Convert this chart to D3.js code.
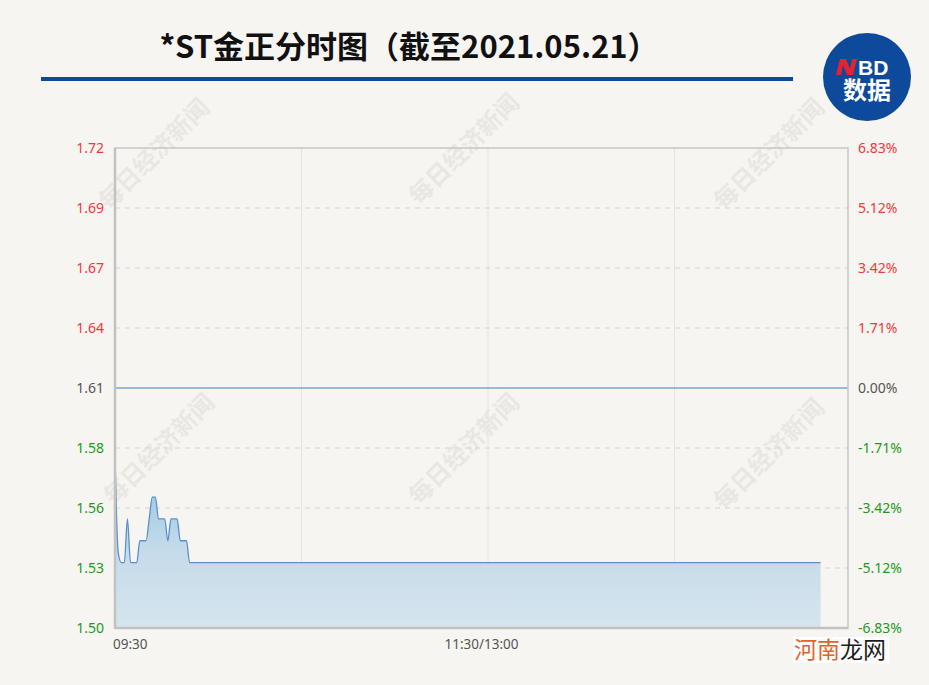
<!DOCTYPE html>
<meta charset="utf-8">
<style>
body { margin: 0; background: #f7f5f1; }
svg { display: block; font-family: "Noto Sans", "Noto Sans CJK SC", sans-serif; }
.tick-l, .tick-r { font-size: 14px; }
.xlab { font-size: 13.5px; fill: #555; }
</style>
<body>
<script src="https://cdn.jsdelivr.net/npm/d3@7"></script>
<script>
// minute offsets from 09:30 and the price at each
var minutes = [0, 1, 2, 3, 4, 5, 6, 7, 8, 9, 10, 11, 12, 13, 14, 15, 16, 17, 18, 19, 20, 21, 22, 23, 24, 227];
var prices  = [1.58, 1.535, 1.53, 1.53, 1.55, 1.53, 1.53, 1.53, 1.54, 1.54, 1.54, 1.55, 1.56, 1.56, 1.55, 1.55, 1.55, 1.54, 1.55, 1.55, 1.55, 1.54, 1.54, 1.54, 1.53, 1.53];
var prevClose = 1.61;

var yTicks  = [1.50, 1.5275, 1.555, 1.5825, 1.61, 1.6375, 1.665, 1.6925, 1.72];
var yLabels = ["1.50", "1.53", "1.56", "1.58", "1.61", "1.64", "1.67", "1.69", "1.72"];
var pLabels = ["-6.83%", "-5.12%", "-3.42%", "-1.71%", "0.00%", "1.71%", "3.42%", "5.12%", "6.83%"];
var xGrid   = [60, 120, 180];
var xLabels = ["09:30", "11:30/13:00", "15:00"];
var xLabelPos = [0, 120, 240];

var W = 929, H = 685;
var pLeft = 115, pRight = 848, pTop = 148, pBottom = 628;

var svg = d3.select("body").append("svg").attr("width", W).attr("height", H);

svg.append("rect").attr("width", W).attr("height", H).attr("fill", "#f7f5f1");

var x = d3.scaleLinear().domain([0, 240]).range([pLeft, 861]);
var xl = d3.scaleLinear().domain([0, 240]).range([pLeft, pRight]);
var y = d3.scaleLinear().domain([1.50, 1.72]).range([pBottom, pTop]);

var defs = svg.append("defs");
var grad = defs.append("linearGradient").attr("id", "fillg")
    .attr("gradientUnits", "userSpaceOnUse")
    .attr("x1", 0).attr("x2", 0).attr("y1", y(1.56)).attr("y2", pBottom);
grad.append("stop").attr("offset", 0).attr("stop-color", "#a6cbe4");
grad.append("stop").attr("offset", 0.4).attr("stop-color", "#c4dbea");
grad.append("stop").attr("offset", 1).attr("stop-color", "#d6e5ed");

// watermarks
var wm = [[160, 160], [470, 155], [775, 160], [165, 455], [470, 455], [775, 460]];
svg.selectAll(".wm").data(wm).enter().append("text")
    .attr("transform", function(d) { return "translate(" + d[0] + "," + d[1] + ") rotate(-45)"; })
    .attr("text-anchor", "middle")
    .attr("font-family", "Noto Sans CJK SC")
    .attr("font-weight", "bold")
    .attr("font-size", 24)
    .attr("fill", "#e2dfda")
    .attr("opacity", 0.6)
    .text("每日经济新闻");

// title
svg.append("text")
    .attr("x", 409).attr("y", 58)
    .attr("text-anchor", "middle")
    .attr("font-family", "Noto Sans CJK SC")
    .attr("font-weight", "bold")
    .attr("font-size", 31)
    .attr("fill", "#111")
    .text("*ST金正分时图（截至2021.05.21）");

svg.append("rect").attr("x", 41).attr("y", 77).attr("width", 752).attr("height", 4).attr("fill", "#0c4a9c");

// logo
var logo = svg.append("g").attr("transform", "translate(867,77)");
logo.append("circle").attr("r", 44).attr("fill", "#0d4a9c");
logo.append("path").attr("d", "M-27,-18 L-21,-18 L-17,-8 L-15,-18 L-10,-18 L-14,-2 L-20,-2 L-24,-12 L-26,-2 L-31,-2 Z").attr("fill", "#e8212e");
logo.append("text").attr("x", -9).attr("y", -2).attr("font-family", "Liberation Sans").attr("font-weight", "bold")
    .attr("font-size", 21).attr("fill", "#fff").text("BD");
logo.append("text").attr("x", 0).attr("y", 22).attr("text-anchor", "middle").attr("font-family", "Noto Sans CJK SC")
    .attr("font-weight", "bold").attr("font-size", 24).attr("fill", "#fff").text("数据");

// vertical grid
svg.selectAll(".vg").data(xGrid).enter().append("line")
    .attr("x1", function(d) { return x(d); }).attr("x2", function(d) { return x(d); })
    .attr("y1", pTop).attr("y2", pBottom)
    .attr("stroke", "#e4e4e4").attr("stroke-width", 1);

// horizontal dashed grid
svg.selectAll(".hg").data(yTicks.filter(function(d, i) { return i > 0 && i < yTicks.length - 1 && i != 4; }))
  .enter().append("line")
    .attr("x1", pLeft).attr("x2", pRight)
    .attr("y1", function(d) { return y(d); }).attr("y2", function(d) { return y(d); })
    .attr("stroke", "#d3d3d3").attr("stroke-dasharray", "5,5");

var data = minutes.map(function(m, i) { return {m: m, p: prices[i]}; });

var area = d3.area().curve(d3.curveMonotoneX)
    .x(function(d) { return x(d.m); })
    .y0(pBottom)
    .y1(function(d) { return y(d.p); });
var line = d3.line().curve(d3.curveMonotoneX)
    .x(function(d) { return x(d.m); })
    .y(function(d) { return y(d.p); });

svg.append("path").datum(data).attr("d", area).attr("fill", "url(#fillg)");
svg.append("path").datum(data).attr("d", line).attr("fill", "none")
    .attr("stroke", "#5b8fca").attr("stroke-width", 1.3);

// prev close
svg.append("line").attr("x1", pLeft).attr("x2", pRight)
    .attr("y1", y(prevClose)).attr("y2", y(prevClose))
    .attr("stroke", "#7aa4cd").attr("stroke-width", 1.6);

// frame
svg.append("rect").attr("x", pLeft).attr("y", pTop).attr("width", pRight - pLeft).attr("height", pBottom - pTop)
    .attr("fill", "none").attr("stroke", "#c6c6c6").attr("stroke-width", 1.5);
svg.append("line").attr("x1", pLeft).attr("x2", pLeft).attr("y1", pTop).attr("y2", pBottom + 1)
    .attr("stroke", "#c2c2c2").attr("stroke-width", 2.5);
svg.append("line").attr("x1", pLeft).attr("x2", pRight).attr("y1", pBottom).attr("y2", pBottom)
    .attr("stroke", "#c2c2c2").attr("stroke-width", 2.5);

function tickColor(i) { return i > 4 ? "#f2383b" : (i < 4 ? "#1e9a22" : "#555"); }

svg.selectAll(".tick-l").data(yTicks).enter().append("text")
    .attr("class", "tick-l")
    .attr("x", 104).attr("y", function(d) { return y(d); })
    .attr("dy", "0.35em").attr("text-anchor", "end")
    .attr("fill", function(d, i) { return tickColor(i); })
    .text(function(d, i) { return yLabels[i]; });

svg.selectAll(".tick-r").data(yTicks).enter().append("text")
    .attr("class", "tick-r")
    .attr("x", 858).attr("y", function(d) { return y(d); })
    .attr("dy", "0.35em").attr("text-anchor", "start")
    .attr("fill", function(d, i) { return tickColor(i); })
    .text(function(d, i) { return pLabels[i]; });

svg.selectAll(".xlab").data(xLabelPos).enter().append("text")
    .attr("class", "xlab")
    .attr("x", function(d, i) { return i == 0 ? xl(d) - 2 : xl(d); })
    .attr("y", 649)
    .attr("text-anchor", function(d, i) { return i == 0 ? "start" : (i == 1 ? "middle" : "end"); })
    .text(function(d, i) { return xLabels[i]; });

// corner watermark
var hn = svg.append("g").attr("transform", "translate(793,637)");
hn.append("rect").attr("width", 96).attr("height", 26).attr("fill", "#ffffff").attr("opacity", 0.95);
var ht = hn.append("text").attr("x", 1).attr("y", 21).attr("font-family", "Noto Sans CJK SC").attr("font-size", 23);
ht.append("tspan").attr("fill", "#e2622b").text("河南");
ht.append("tspan").attr("fill", "#1d1d1d").text("龙网");
</script>
</body>
